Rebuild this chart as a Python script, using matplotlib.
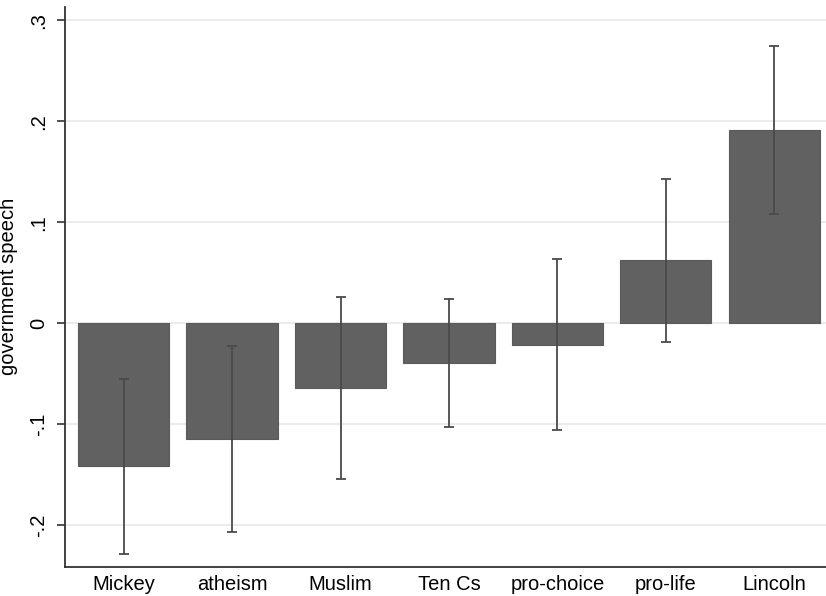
import matplotlib
matplotlib.use("Agg")
import matplotlib.pyplot as plt
import numpy as np

categories = ["Mickey", "atheism", "Muslim", "Ten Cs", "pro-choice", "pro-life", "Lincoln"]
estimates = [-0.1416, -0.1146, -0.0644, -0.0393, -0.0218, 0.0624, 0.1917]
ci_low = [-0.228, -0.2066, -0.1538, -0.1027, -0.1056, -0.0188, 0.1085]
ci_high = [-0.0551, -0.0222, 0.026, 0.024, 0.0634, 0.1429, 0.2746]
yticks = [-0.2, -0.1, 0.0, 0.1, 0.2, 0.3]
ytick_labels = ["-.2", "-.1", "0", ".1", ".2", ".3"]

plt.rcParams['font.family'] = ['Liberation Sans', 'DejaVu Sans']

fig = plt.figure(figsize=(8.26, 5.96), dpi=100)
ax = fig.add_axes([65 / 826, (596 - 566.7) / 596, (826 - 65) / 826, (566.7 - 7) / 596])

x = np.arange(len(categories))
est = np.array(estimates)
lo = np.array(ci_low)
hi = np.array(ci_high)

ax.bar(x, est, width=0.84, color="#616161", edgecolor="#5a5a5a", linewidth=0.8, zorder=2)
ax.errorbar(x, est, yerr=[est - lo, hi - est], fmt="none", ecolor="#4a4a4a",
            elinewidth=1.3, capsize=3.8, capthick=1.3, zorder=3)

ax.set_xlim(-0.54, 6.476)
ax.set_ylim(-0.241, 0.313)
ax.set_yticks(yticks)
ax.set_yticklabels(ytick_labels, rotation=90, va="center", fontsize=14.5)
ax.set_xticks(x)
ax.set_xticklabels(categories, fontsize=14.5)
ax.tick_params(axis="x", length=0, pad=6)
ax.tick_params(axis="y", length=6, width=1.2, color="#333333", pad=6)
ax.set_ylabel("government speech", fontsize=14.5, labelpad=8)
ax.yaxis.grid(True, color="#ebebeb", linewidth=1.3, zorder=0)
ax.set_axisbelow(True)
for s in ["top", "right"]:
    ax.spines[s].set_visible(False)
for s in ["left", "bottom"]:
    ax.spines[s].set_color("#333333")
    ax.spines[s].set_linewidth(1.3)

fig.savefig("out.png", dpi=100, facecolor="white")
